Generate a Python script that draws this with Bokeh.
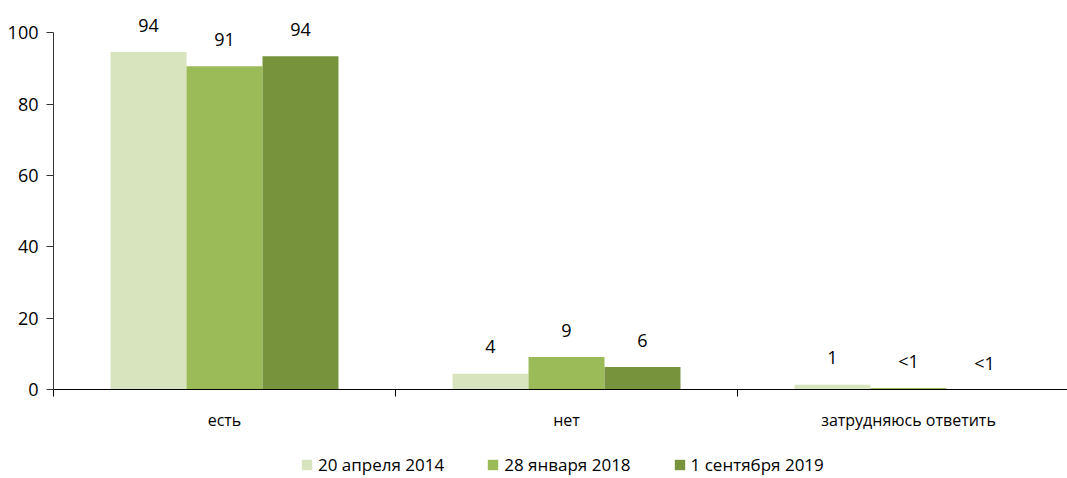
from bokeh.plotting import figure
from bokeh.layouts import column
from bokeh.models import Range1d, FixedTicker, Legend, LegendItem, ColumnDataSource
from bokeh.core.properties import value
from bokeh.embed import file_html
from bokeh.resources import INLINE

categories = ["есть", "нет", "затрудняюсь ответить"]
series_names = ["20 апреля 2014", "28 января 2018", "1 сентября 2019"]
colors = ["#D7E4BD", "#9BBB59", "#77933C"]
s2014 = [94.6, 4.4, 1.3]
s2018 = [90.6, 9.1, 0.4]
s2019 = [93.4, 6.3, 0.0]
labels2014 = ["94", "4", "1"]
labels2018 = ["91", "9", "<1"]
labels2019 = ["94", "6", "<1"]
y_ticks = [0, 20, 40, 60, 80, 100]

FONT = "Open Sans"
BAR_W = 0.2222
W = 1067

p = figure(width=W, height=440, output_backend="svg", toolbar_location=None,
           x_range=Range1d(0, (W - 53) / 342), y_range=Range1d(0, 105.7),
           min_border_left=53, min_border_right=0, min_border_top=12, min_border_bottom=51)
p.outline_line_color = None
p.xgrid.visible = False
p.ygrid.visible = False

all_vals = [s2014, s2018, s2019]
all_labels = [labels2014, labels2018, labels2019]
for k, (vals, labs, col) in enumerate(zip(all_vals, all_labels, colors)):
    xs = [i + 0.5 + (k - 1) * BAR_W for i in range(len(categories))]
    src = ColumnDataSource(dict(x=xs, top=vals, lab=labs))
    p.vbar(x="x", top="top", bottom=0, width=BAR_W, source=src,
           fill_color=col, line_color=None)
    p.text(x="x", y="top", text="lab", source=src, text_align="center",
           text_baseline="alphabetic", y_offset=-27, text_font=value(FONT),
           text_font_size="18px", text_color="#000000")

# y axis
ya = p.yaxis[0]
ya.ticker = FixedTicker(ticks=y_ticks, minor_ticks=[])
ya.bounds = (0, 100)
ya.axis_line_color = "#333333"
ya.major_tick_line_color = "#333333"
ya.major_tick_out = 7
ya.major_tick_in = 0
ya.major_label_standoff = 8
ya.major_label_text_font = FONT
ya.major_label_text_font_size = "18px"
ya.major_label_text_color = "#000000"

# x axis
xa = p.xaxis[0]
xa.ticker = FixedTicker(ticks=[i + 0.5 for i in range(len(categories))],
                        minor_ticks=list(range(len(categories) + 1)))
xa.major_label_overrides = {i + 0.5: c for i, c in enumerate(categories)}
xa.major_tick_line_color = None
xa.major_tick_out = 0
xa.major_tick_in = 0
xa.minor_tick_line_color = "#000000"
xa.minor_tick_out = 7
xa.minor_tick_in = 0
xa.axis_line_color = "#000000"
xa.major_label_standoff = 12
xa.major_label_text_font = FONT
xa.major_label_text_font_size = "16px"
xa.major_label_text_color = "#000000"

# legend in a strip below (swatch renderers sit outside the visible range)
lg = figure(width=W, height=38, output_backend="svg", toolbar_location=None,
            x_range=Range1d(0, 1), y_range=Range1d(0, 1),
            min_border_left=0, min_border_right=0, min_border_top=0, min_border_bottom=0)
lg.axis.visible = False
lg.outline_line_color = None
lg.xgrid.visible = False
lg.ygrid.visible = False
lg.background_fill_color = "white"
lg.border_fill_color = "white"
items = []
for name, col in zip(series_names, colors):
    r = lg.vbar(x=[-5], top=[-5], bottom=-6, width=0.1, fill_color=col, line_color=None)
    items.append(LegendItem(label=name, renderers=[r]))
legend = Legend(items=items, orientation="horizontal", location=(247, 2),
                glyph_width=13, glyph_height=13, label_standoff=5, spacing=42,
                label_height=20, label_text_font=FONT, label_text_font_size="17px",
                label_text_color="#000000", label_text_baseline="middle",
                border_line_color=None, background_fill_alpha=0, padding=0, margin=0)
lg.add_layout(legend, "center")

layout = column(p, lg, spacing=0)
open("out.html", "w").write(file_html(layout, INLINE))
